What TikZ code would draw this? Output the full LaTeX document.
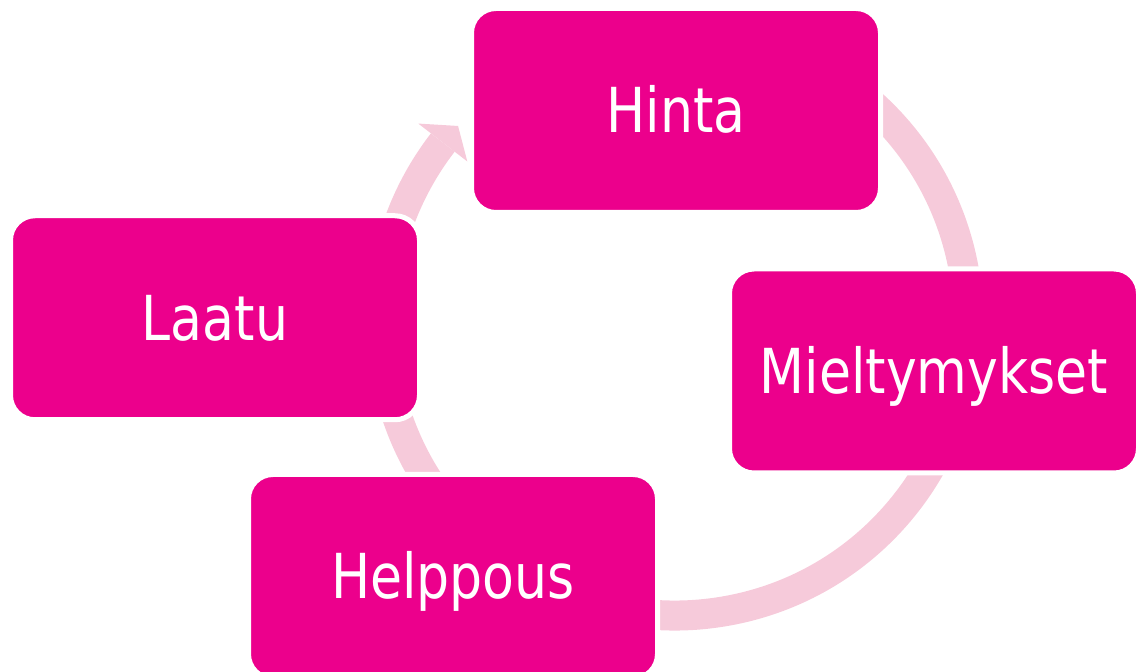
\documentclass[tikz,border=0pt]{standalone}
\usepackage{fontspec}
\setmainfont{DejaVu Sans}
\newfontfamily\boxfont[FakeStretch=0.84]{DejaVu Sans}
\usetikzlibrary{calc}
\definecolor{boxpink}{RGB}{236,0,140}
\definecolor{ringpink}{RGB}{246,202,218}
\tikzset{
  cyclebox/.style={rectangle, rounded corners=24.5pt, fill=boxpink, draw=white,
    line width=5pt, minimum width=409pt, minimum height=204pt, inner sep=0pt,
    text=white, font=\boxfont\fontsize{62}{74}\selectfont,
    text height=45pt, text depth=0pt},
  ringstroke/.style={draw=ringpink, line width=30pt},
  ringhead/.style={fill=ringpink},
}
\begin{document}
\begin{tikzpicture}[x=1pt,y=1pt]
\useasboundingbox (0,0) rectangle (1141,672);
\clip (0,0) rectangle (1141,672);
\coordinate (c) at (675,350);
% circular arrow behind the boxes
\draw[ringstroke] ($(c)+(100:293.5pt)$) arc[start angle=100, end angle=-217.7, radius=293.5pt];
\fill[ringhead] ($(c)+(142.3:324.5pt)$) -- ($(c)+(137.9:292.4pt)$) -- ($(c)+(142.3:262.5pt)$) -- cycle;
% boxes
\node[cyclebox] (hinta) at (676,561.5) {Hinta};
\node[cyclebox] (miel) at (934,301) {Mieltymykset};
\node[cyclebox] (help) at (453,95.5) {Helppous};
\node[cyclebox] (laatu) at (215,354.25) {Laatu};
\end{tikzpicture}
\end{document}
